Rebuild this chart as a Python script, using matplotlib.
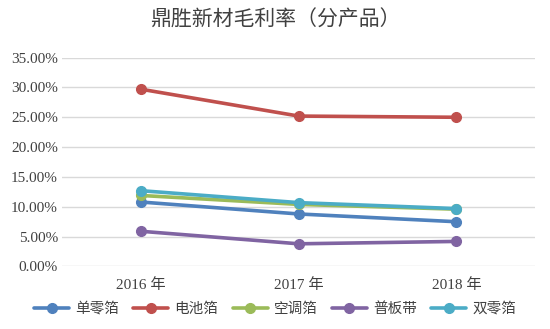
import matplotlib
matplotlib.use("Agg")
import matplotlib.pyplot as plt
from matplotlib.ticker import FuncFormatter

years = ["2016 年", "2017 年", "2018 年"]
series_names = ["单零箔", "电池箔", "空调箔", "普板带", "双零箔"]
dan_ling = [10.8, 8.8, 7.5]
dian_chi = [29.7, 25.2, 25.0]
kong_tiao = [11.9, 10.4, 9.6]
pu_ban = [5.9, 3.8, 4.2]
shuang_ling = [12.7, 10.7, 9.7]
values = [dan_ling, dian_chi, kong_tiao, pu_ban, shuang_ling]

COLORS = ["#4F81BD", "#C0504D", "#9BBB59", "#8064A2", "#4BACC6"]
CJK = ["Noto Sans CJK SC", "DejaVu Sans"]
SERIF = ["Liberation Serif", "Noto Sans CJK SC"]

fig = plt.figure(figsize=(5.5, 3.29), dpi=100)
ax = fig.add_axes([0.113, 0.19, 0.86, 0.635])

x = list(range(len(years)))
for name, vals, color in zip(series_names, values, COLORS):
    ax.plot(x, vals, color=color, linewidth=2.6, marker="o", markersize=7,
            label=name, solid_capstyle="round")

ax.set_xlim(-0.5, len(years) - 0.5)
ax.set_ylim(0, 35)
ax.set_yticks(range(0, 36, 5))
ax.yaxis.set_major_formatter(FuncFormatter(lambda v, p: f"{v:.2f}%"))
ax.set_xticks(x)
ax.set_xticklabels(years)
for lbl in ax.get_xticklabels() + ax.get_yticklabels():
    lbl.set_family(SERIF)
    lbl.set_fontsize(11)
    lbl.set_color("#404040")
ax.tick_params(axis="y", length=0, pad=3)
ax.tick_params(axis="x", length=0, pad=8)
ax.grid(axis="y", color="#D9D9D9", linewidth=1)
ax.set_axisbelow(True)
for s in ax.spines.values():
    s.set_visible(False)

fig.suptitle("鼎胜新材毛利率（分产品）", y=0.975, fontsize=15,
             family=CJK, color="#404040")

leg = fig.legend(loc="lower center", bbox_to_anchor=(0.5, 0.0), ncol=5,
                 frameon=False, prop={"family": CJK, "size": 10.5},
                 handlelength=2.4, columnspacing=1.0, handletextpad=0.4)
for t in leg.get_texts():
    t.set_color("#404040")

fig.savefig("out.png", dpi=100)
